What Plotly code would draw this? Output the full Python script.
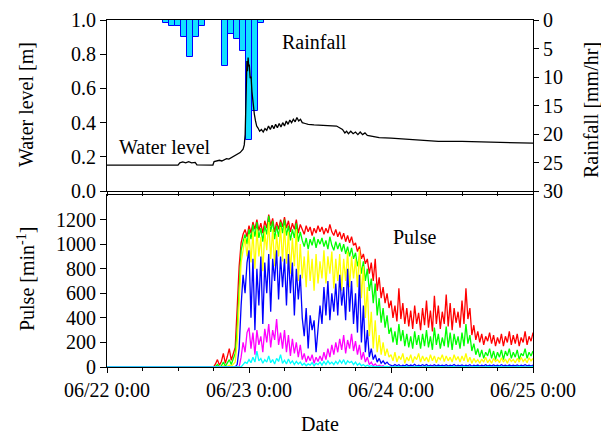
import pandas as pd
import plotly.graph_objects as go

# ---------------- data ----------------
# Rainfall (hourly, mm/hr), bar centres
rain_time = ["2012-06-22 10:00", "2012-06-22 11:00", "2012-06-22 12:00", "2012-06-22 13:00",
             "2012-06-22 14:00", "2012-06-22 15:00", "2012-06-22 16:00",
             "2012-06-22 20:00", "2012-06-22 21:00", "2012-06-22 22:00", "2012-06-22 23:00",
             "2012-06-23 00:00", "2012-06-23 01:00", "2012-06-23 02:00"]
rain_mm = [0.5, 1.0, 1.0, 3.0, 6.5, 3.0, 1.0, 8.0, 2.5, 3.4, 5.5, 21.0, 16.0, 0.5]

# Water level: hours after 06/22 0:00 and level [m]
wl_hours = [0, 3, 6, 9, 12, 12.3, 12.8, 13.3, 13.8, 14.3, 14.9, 15.2, 16, 17, 17.9, 18.1, 18.5, 19,
            19.4, 19.8, 20.2, 20.6, 21, 21.5, 22, 22.5, 23, 23.2, 23.35, 23.45, 23.55, 23.65, 23.75,
            23.85, 23.95, 24.05, 24.2, 24.35, 24.5, 24.7, 24.9, 25.1, 25.3, 25.5, 25.8, 26.1, 26.4,
            26.7, 27, 27.3, 27.6, 27.9, 28.2, 28.5, 28.8, 29.1, 29.4, 29.7, 30, 30.3, 30.6, 30.9,
            31.2, 31.5, 31.8, 32.1, 32.4, 32.7, 33, 33.5, 34, 35, 36, 37, 38, 38.8, 39.3, 39.8,
            40.2, 40.5, 40.8, 41.2, 41.6, 42, 42.4, 42.8, 43.2, 43.6, 44, 45, 46, 48, 50, 52, 54,
            56, 60, 64, 68, 72]
wl_m = [0.152, 0.151, 0.152, 0.151, 0.152, 0.165, 0.17, 0.165, 0.172, 0.165, 0.168, 0.153, 0.152,
        0.151, 0.152, 0.172, 0.175, 0.18, 0.176, 0.183, 0.19, 0.187, 0.195, 0.2, 0.21, 0.225, 0.245,
        0.27, 0.33, 0.45, 0.62, 0.76, 0.7, 0.78, 0.73, 0.74, 0.66, 0.67, 0.58, 0.5, 0.45, 0.41, 0.38,
        0.37, 0.35, 0.36, 0.345, 0.365, 0.355, 0.38, 0.36, 0.385, 0.365, 0.39, 0.37, 0.395, 0.375,
        0.4, 0.38, 0.41, 0.39, 0.415, 0.4, 0.42, 0.405, 0.43, 0.41, 0.42, 0.4, 0.395, 0.39, 0.387,
        0.385, 0.382, 0.38, 0.38, 0.37, 0.36, 0.34, 0.35, 0.335, 0.35, 0.335, 0.345, 0.33, 0.345,
        0.33, 0.34, 0.325, 0.32, 0.313, 0.31, 0.305, 0.3, 0.295, 0.29, 0.29, 0.287, 0.283, 0.28]

# Pulse [1/min]: first value at 06/22 0:00, then every 20 min from 06/22 18:00
pulse_red = [0,
    0, 25, 60, 15, 45, 110, 30, 85, 150,
    55, 120, 160, 480, 820, 1010, 1080, 1120, 1060,
    1150, 1090, 1180, 1120, 1200, 1110, 1170, 1090, 1190,
    1130, 1240, 1150, 1210, 1100, 1180, 1120, 1200, 1140,
    1220, 1130, 1190, 1100, 1170, 1120, 1200, 1090, 1160,
    1120, 1080, 1150, 1100, 1140, 1070, 1130, 1090, 1150,
    1100, 1140, 1080, 1130, 1090, 1160, 1100, 1070, 1120,
    1060, 1100, 1040, 1090, 1020, 1070, 1010, 1060, 990,
    1010, 940, 980, 880, 920, 840, 880, 760, 850,
    700, 880, 620, 730, 560, 650, 520, 600, 480,
    540, 400, 500, 370, 640, 390, 520, 350, 480,
    330, 460, 310, 500, 350, 440, 300, 480, 340,
    540, 320, 460, 290, 580, 350, 500, 310, 450,
    350, 590, 330, 520, 300, 480, 360, 450, 320,
    540, 350, 640, 390, 480, 260, 340, 220, 290,
    200, 270, 180, 250, 210, 280, 190, 260, 170,
    240, 190, 270, 170, 250, 200, 290, 180, 260,
    190, 270, 170, 240, 200, 290, 180, 250, 210,
    280]
pulse_green = [0,
    0, 5, 20, 0, 10, 40, 5, 30, 60,
    20, 70, 110, 300, 700, 950, 1020, 1080, 1000,
    1120, 1040, 1160, 1060, 1180, 1050, 1130, 1020, 1150,
    1080, 1230, 1100, 1190, 1040, 1150, 1060, 1180, 1090,
    1200, 1070, 1150, 1030, 1120, 1050, 1170, 1020, 1100,
    1030, 980, 1050, 960, 1040, 990, 1060, 970, 1040,
    1000, 1050, 980, 1030, 960, 1060, 990, 950, 1020,
    960, 1010, 940, 1000, 920, 980, 900, 970, 880,
    930, 820, 900, 760, 860, 700, 800, 620, 720,
    520, 680, 420, 560, 360, 480, 320, 420, 270,
    320, 200, 290, 180, 350, 210, 300, 170, 270,
    160, 250, 150, 290, 180, 260, 150, 270, 170,
    300, 160, 250, 140, 320, 180, 270, 150, 240,
    170, 330, 160, 280, 140, 270, 180, 250, 150,
    280, 170, 350, 190, 260, 130, 190, 100, 150,
    80, 140, 70, 120, 90, 150, 70, 130, 60,
    120, 80, 140, 60, 130, 90, 150, 70, 120,
    80, 140, 60, 110, 90, 150, 70, 120, 90,
    130]
pulse_yellow = [0,
    0, 0, 5, 0, 0, 10, 0, 5, 15,
    5, 20, 40, 200, 550, 850, 950, 1050, 900,
    1080, 850, 1100, 800, 1120, 900, 1060, 780, 1100,
    950, 1180, 880, 1120, 820, 1080, 900, 1140, 860,
    1150, 840, 1100, 760, 1050, 820, 1120, 700, 1000,
    720, 900, 650, 950, 700, 880, 620, 920, 680,
    860, 720, 950, 680, 900, 760, 940, 640, 880,
    700, 920, 620, 880, 700, 940, 650, 900, 720,
    880, 650, 960, 560, 820, 400, 650, 250, 450,
    150, 380, 120, 260, 100, 200, 90, 150, 80,
    100, 50, 120, 40, 90, 60, 110, 30, 80,
    50, 100, 35, 85, 60, 110, 40, 90, 50,
    80, 40, 100, 50, 90, 35, 80, 60, 100,
    45, 90, 50, 80, 40, 100, 55, 85, 40,
    90, 50, 110, 40, 80, 30, 70, 40, 60,
    30, 65, 40, 80, 35, 60, 30, 70, 45,
    60, 35, 75, 40, 65, 30, 70, 45, 60,
    35, 70, 40, 80, 45, 65, 35, 75, 50,
    70]
pulse_blue = [0,
    0, 0, 0, 0, 0, 0, 0, 0, 0,
    0, 0, 0, 20, 150, 500, 750, 600, 850,
    950, 400, 880, 300, 800, 500, 900, 350, 850,
    600, 920, 450, 880, 700, 950, 550, 900, 650,
    880, 500, 920, 600, 850, 420, 800, 550, 750,
    400, 250, 480, 150, 420, 300, 380, 120, 350,
    500, 350, 650, 420, 700, 380, 600, 450, 680,
    420, 750, 500, 650, 380, 800, 450, 700, 350,
    600, 280, 750, 200, 500, 120, 300, 80, 150,
    60, 100, 40, 70, 30, 50, 25, 40, 20,
    15, 8, 20, 10, 18, 6, 15, 10, 20,
    8, 16, 10, 22, 7, 15, 9, 18, 10,
    20, 8, 14, 10, 19, 7, 16, 9, 14,
    10, 18, 7, 15, 10, 20, 8, 15, 9,
    17, 8, 14, 10, 18, 6, 15, 9, 16,
    8, 14, 10, 18, 7, 15, 9, 17, 10,
    15, 8, 18, 10, 14, 7, 16, 9, 15,
    10, 17, 8, 15, 9, 18, 10, 14, 8,
    15]
pulse_magenta = [0,
    0, 0, 0, 0, 0, 0, 0, 0, 0,
    0, 0, 0, 0, 0, 80, 200, 120, 280,
    320, 150, 280, 100, 300, 180, 250, 120, 310,
    200, 350, 160, 300, 220, 390, 180, 280, 150,
    300, 120, 260, 90, 230, 110, 200, 80, 180,
    60, 110, 40, 90, 50, 100, 30, 80, 45,
    90, 50, 120, 60, 150, 80, 180, 100, 200,
    120, 230, 140, 260, 110, 220, 150, 270, 130,
    210, 100, 180, 60, 120, 40, 80, 20, 40,
    10, 25, 5, 15, 5, 10, 0, 5, 0,
    3, 0, 5, 0, 2, 0, 4, 0, 3,
    0, 2, 0, 4, 0, 3, 0, 2, 0,
    3, 0, 4, 0, 2, 0, 3, 0, 2,
    0, 3, 0, 2, 0, 4, 0, 3, 0,
    2, 0, 3, 0, 2, 0, 3, 0, 2,
    0, 2, 0, 3, 0, 2, 0, 3, 0,
    2, 0, 3, 0, 2, 0, 2, 0, 3,
    0, 2, 0, 3, 0, 2, 0, 3, 0,
    2]
pulse_cyan = [0,
    0, 0, 0, 0, 0, 0, 0, 0, 0,
    0, 0, 0, 0, 0, 0, 20, 40, 30,
    60, 35, 80, 40, 130, 50, 70, 30, 60,
    40, 90, 35, 60, 25, 70, 45, 100, 30,
    55, 25, 65, 30, 50, 20, 45, 25, 40,
    15, 30, 10, 25, 15, 35, 10, 30, 20,
    40, 15, 45, 20, 50, 25, 40, 20, 45,
    25, 55, 30, 60, 20, 50, 35, 45, 20,
    40, 15, 30, 10, 20, 5, 15, 5, 10,
    3, 5, 2, 4, 1, 3, 2, 4, 1,
    2, 1, 3, 1, 2, 1, 3, 1, 2,
    1, 2, 1, 3, 1, 2, 1, 2, 1,
    2, 1, 3, 1, 2, 1, 2, 1, 3,
    1, 2, 1, 2, 1, 3, 1, 2, 1,
    2, 1, 3, 1, 2, 1, 2, 1, 2,
    1, 2, 1, 3, 1, 2, 1, 2, 1,
    2, 1, 2, 1, 3, 1, 2, 1, 2,
    1, 2, 1, 3, 1, 2, 1, 2, 1,
    2]

x_tick_vals = ["2012-06-22", "2012-06-23", "2012-06-24", "2012-06-25"]
x_tick_text = ["06/22 0:00", "06/23 0:00", "06/24 0:00", "06/25 0:00"]

# ---------------- figure ----------------
T0 = pd.Timestamp("2012-06-22 00:00")
wl_time = [T0 + pd.Timedelta(hours=h) for h in wl_hours]


def pulse_times(values):
    return [T0] + list(pd.date_range("2012-06-22 18:00", periods=len(values) - 1, freq="20min"))


FONT = "Liberation Serif, Times New Roman, serif"
fig = go.Figure()

fig.add_trace(go.Bar(x=pd.to_datetime(rain_time), y=rain_mm, width=3600 * 1000,
                     marker=dict(color="#12E0FF", line=dict(color="#0000FF", width=1)),
                     xaxis="x", yaxis="y", showlegend=False))
fig.add_trace(go.Scatter(x=wl_time, y=wl_m, mode="lines", line=dict(color="black", width=1.3),
                         xaxis="x", yaxis="y2", showlegend=False))

for vals, col in [(pulse_red, "#FF0000"), (pulse_green, "#00FF00"), (pulse_yellow, "#FFFF00"),
                  (pulse_blue, "#0000FF"), (pulse_magenta, "#FF00FF"), (pulse_cyan, "#00FFFF")]:
    fig.add_trace(go.Scatter(x=pulse_times(vals), y=vals, mode="lines",
                             line=dict(color=col, width=1.3), xaxis="x2", yaxis="y3",
                             showlegend=False))

xr = ["2012-06-22 00:00", "2012-06-25 00:00"]
common_axis = dict(showline=True, linecolor="black", linewidth=1, showgrid=False, zeroline=False,
                   ticks="outside", tickcolor="black", tickwidth=1, automargin=False,
                   tickfont=dict(family=FONT, size=20, color="black"))

fig.update_layout(
    width=601, height=435,
    margin=dict(l=107, r=68, t=20, b=68, autoexpand=False),
    paper_bgcolor="white", plot_bgcolor="white",
    font=dict(family=FONT, size=20, color="black"),
    bargap=0,
    xaxis=dict(common_axis, domain=[0, 1], anchor="y", type="date", range=xr,
               tickvals=x_tick_vals, showticklabels=False, ticklen=4, mirror=True,
               minor=dict(dtick=6 * 3600 * 1000, tick0="2012-06-22", ticks="outside",
                          ticklen=4, tickcolor="black")),
    yaxis=dict(common_axis, domain=[0.507, 1], anchor="x", side="right", range=[30, 0],
               tickvals=[0, 5, 10, 15, 20, 25, 30], ticklen=5),
    yaxis2=dict(common_axis, overlaying="y", anchor="x", side="left", range=[0, 1],
                tickvals=[0, 0.2, 0.4, 0.6, 0.8, 1.0], tickformat=".1f", ticklen=6),
    xaxis2=dict(common_axis, domain=[0, 1], anchor="y3", type="date", range=xr,
                tickvals=x_tick_vals, ticktext=x_tick_text, ticklen=5, mirror=True,
                minor=dict(dtick=6 * 3600 * 1000, tick0="2012-06-22", ticks="outside",
                           ticklen=3, tickcolor="black")),
    yaxis3=dict(common_axis, domain=[0, 0.4957], anchor="x2", range=[0, 1400],
                tickvals=[0, 200, 400, 600, 800, 1000, 1200], ticklen=6, mirror=True),
)

ann = dict(xref="paper", yref="paper", showarrow=False, xanchor="center", yanchor="middle",
           font=dict(family=FONT, size=20, color="black"))
fig.add_annotation(ann, text="Water level [m]", x=-0.190, y=0.755, textangle=-90)
fig.add_annotation(ann, text="Pulse [min<sup>-1</sup>]", x=-0.190, y=0.2536, textangle=-90)
fig.add_annotation(ann, text="Rainfall [mm/hr]", x=1.1362, y=0.7406, textangle=-90)
fig.add_annotation(ann, text="Date", x=0.5, y=-0.165)
fig.add_annotation(ann, text="Water level", x=0.136, y=0.634)
fig.add_annotation(ann, text="Rainfall", x=0.488, y=0.9366)
fig.add_annotation(ann, text="Pulse", x=0.723, y=0.3746)

# remove the default page margin so the 601x435 figure fills the window exactly
fig.write_html("out.html", config={"displayModeBar": False},
               post_script="document.body.style.margin='0';document.body.style.overflow='hidden';")
